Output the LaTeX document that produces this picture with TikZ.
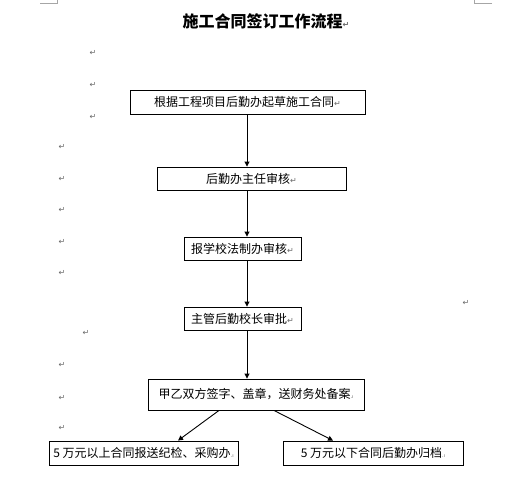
\documentclass[tikz,border=0pt]{standalone}
\usepackage{fontspec}
\setmainfont{DejaVu Sans}
\newfontfamily\cjk{Noto Sans CJK SC}
\newfontfamily\symf{DejaVu Sans}
\usetikzlibrary{arrows.meta}
\definecolor{markgray}{RGB}{105,105,105}
\newcommand{\pmk}{{\symf\fontsize{8}{9}\selectfont\color{markgray}↵}}
\newcommand{\smk}{{\symf\fontsize{5}{6}\selectfont\color{markgray}.ı}}
\tikzset{
  box/.style={draw=black, line width=0.9pt, rectangle, inner sep=0pt, font=\cjk\fontsize{12}{14}\selectfont, text=black},
  arr/.style={draw=black, line width=0.9pt, -{Triangle[length=5pt,width=5pt]}},
  pm/.style={inner sep=0pt, font=\symf\fontsize{8}{9}\selectfont, text=markgray},
  corner/.style={draw=gray!70, line width=0.8pt}
}
\begin{document}
\begin{tikzpicture}[x=1pt,y=-1pt]
\useasboundingbox (0,0) rectangle (519,479);
\fill[white] (0,0) rectangle (519,479);
% corner marks
\coordinate (tl1) at (40,3); \coordinate (tl2) at (57,3); \coordinate (tl3) at (57,0);
\draw[corner] (tl1) -- (tl2) -- (tl3);
\coordinate (tr1) at (492,3); \coordinate (tr2) at (474,3); \coordinate (tr3) at (474,0);
\draw[corner] (tr1) -- (tr2) -- (tr3);
% title
\node[inner sep=0pt, font=\cjk\bfseries\fontsize{16}{18}\selectfont] (title) at (266,21) {施工合同签订工作流程\pmk};
% boxes
\node[box, minimum width=235pt, minimum height=24pt] (b1) at (247.5,102) {根据工程项目后勤办起草施工合同\pmk};
\node[box, minimum width=189pt, minimum height=23pt] (b2) at (251.5,178.5) {后勤办主任审核\pmk};
\node[box, minimum width=117pt, minimum height=23pt] (b3) at (242.5,248.5) {报学校法制办审核\pmk};
\node[box, minimum width=117pt, minimum height=23pt] (b4) at (242.5,318.5) {主管后勤校长审批\pmk};
\node[box, minimum width=216pt, minimum height=31pt] (b5) at (256,394.5) {甲乙双方签字、盖章，送财务处备案\smk};
\node[box, minimum width=189pt, minimum height=24pt] (b6) at (143.5,453) {5 万元以上合同报送纪检、采购办\smk};
\node[box, minimum width=180pt, minimum height=24pt] (b7) at (373,453) {5 万元以下合同后勤办归档\smk};
% connectors
\coordinate (ax) at (247,0);
\draw[arr] (b1.south -| ax) -- (b2.north -| ax);
\draw[arr] (b2.south -| ax) -- (b3.north -| ax);
\draw[arr] (b3.south -| ax) -- (b4.north -| ax);
\draw[arr] (b4.south -| ax) -- (b5.north -| ax);
\coordinate (l1) at (219,0); \coordinate (l2) at (178,0);
\coordinate (r1) at (274,0); \coordinate (r2) at (333,0);
\draw[arr] (b5.south -| l1) -- (b6.north -| l2);
\draw[arr] (b5.south -| r1) -- (b7.north -| r2);
% paragraph marks
\node[pm] (p1) at (93,53) {↵};
\node[pm] (p2) at (93,85) {↵};
\node[pm] (p3) at (93,117) {↵};
\node[pm] (p4) at (62,147) {↵};
\node[pm] (p5) at (62,179) {↵};
\node[pm] (p6) at (62,210) {↵};
\node[pm] (p7) at (62,242) {↵};
\node[pm] (p8) at (62,273) {↵};
\node[pm] (p9) at (466,303) {↵};
\node[pm] (p10) at (86,333) {↵};
\node[pm] (p11) at (62,365) {↵};
\node[pm] (p12) at (62,398) {↵};
\node[pm] (p13) at (62,428) {↵};
\end{tikzpicture}
\end{document}
